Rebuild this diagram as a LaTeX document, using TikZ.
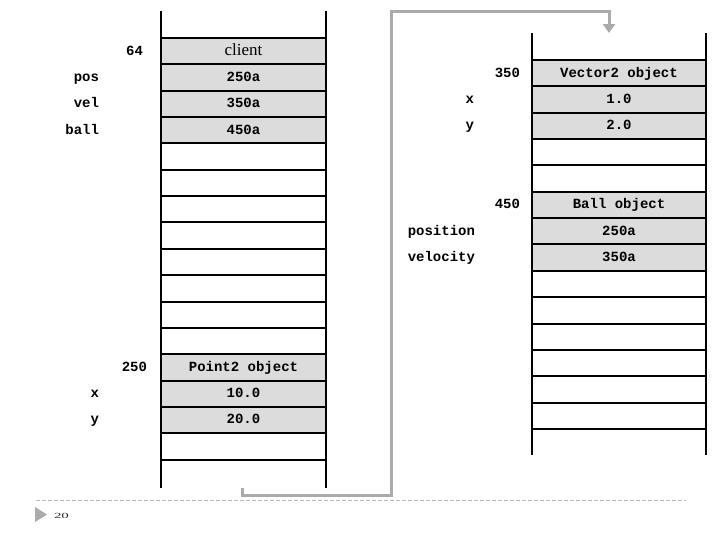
\documentclass[tikz,border=0pt]{standalone}
\usepackage{fontspec}
\newfontfamily\memfont{Liberation Mono}
\newfontfamily\labelfont{Liberation Serif}
\usetikzlibrary{positioning,arrows.meta}
\definecolor{cellgray}{HTML}{DCDCDC}
\definecolor{linkgray}{HTML}{ABABAB}
\definecolor{rulegray}{HTML}{BBBBBB}

\begin{document}
\begin{tikzpicture}
[x=1pt,y=-1pt,
 every node/.style={inner sep=0pt,outer sep=0pt,text height=1.8ex,text depth=0ex,
                    font=\memfont\bfseries\fontsize{14}{16}\selectfont},
 cell/.style={rectangle,draw=black,line width=2pt,minimum width=165pt,minimum height=26.35pt},
 wide/.style={cell,minimum width=174pt},
 used/.style={fill=cellgray},
 rail/.style={draw=black,line width=2pt},
 link/.style={draw=linkgray,line width=3pt,-{Triangle[width=12pt,length=9pt]}}]
\useasboundingbox (0,0) rectangle (720,540);

% left column
\node[cell,used] (L0)  at (243.5,51.2)                 {\labelfont\mdseries\fontsize{17}{19}\selectfont client};
\node[cell,used] (L1)  [on grid,below=26.35pt of L0]   {250a};
\node[cell,used] (L2)  [on grid,below=26.35pt of L1]   {350a};
\node[cell,used] (L3)  [on grid,below=26.35pt of L2]   {450a};
\node[cell]      (L4)  [on grid,below=26.35pt of L3]   {};
\node[cell]      (L5)  [on grid,below=26.35pt of L4]   {};
\node[cell]      (L6)  [on grid,below=26.35pt of L5]   {};
\node[cell]      (L7)  [on grid,below=26.35pt of L6]   {};
\node[cell]      (L8)  [on grid,below=26.35pt of L7]   {};
\node[cell]      (L9)  [on grid,below=26.35pt of L8]   {};
\node[cell]      (L10) [on grid,below=26.35pt of L9]   {};
\node[cell]      (L11) [on grid,below=26.35pt of L10]  {};
\node[cell,used] (L12) [on grid,below=26.35pt of L11]  {Point2 object};
\node[cell,used] (L13) [on grid,below=26.35pt of L12]  {10.0};
\node[cell,used] (L14) [on grid,below=26.35pt of L13]  {20.0};
\node[cell]      (L15) [on grid,below=26.35pt of L14]  {};
\path[rail] ([yshift=27pt]L0.north west) -- ([yshift=-28pt]L15.south west);
\path[rail] ([yshift=27pt]L0.north east) -- ([yshift=-28pt]L15.south east);

\node (lb64)   [left=18pt of L0]  {64};
\node (lbpos)  [left=62pt of L1]  {pos};
\node (lbvel)  [left=62pt of L2]  {vel};
\node (lbball) [left=62pt of L3]  {ball};
\node (lb250)  [left=14pt of L12] {250};
\node (lbpx)   [left=62pt of L13] {x};
\node (lbpy)   [left=62pt of L14] {y};

% right column
\node[wide,used] (R0)  at (619,73.2)                   {Vector2 object};
\node[wide,used] (R1)  [on grid,below=26.35pt of R0]   {1.0};
\node[wide,used] (R2)  [on grid,below=26.35pt of R1]   {2.0};
\node[wide]      (R3)  [on grid,below=26.35pt of R2]   {};
\node[wide]      (R4)  [on grid,below=26.35pt of R3]   {};
\node[wide,used] (R5)  [on grid,below=26.35pt of R4]   {Ball object};
\node[wide,used] (R6)  [on grid,below=26.35pt of R5]   {250a};
\node[wide,used] (R7)  [on grid,below=26.35pt of R6]   {350a};
\node[wide]      (R8)  [on grid,below=26.35pt of R7]   {};
\node[wide]      (R9)  [on grid,below=26.35pt of R8]   {};
\node[wide]      (R10) [on grid,below=26.35pt of R9]   {};
\node[wide]      (R11) [on grid,below=26.35pt of R10]  {};
\node[wide]      (R12) [on grid,below=26.35pt of R11]  {};
\node[wide]      (R13) [on grid,below=26.35pt of R12]  {};
\path[rail] ([yshift=27pt]R0.north west) -- ([yshift=-26pt]R13.south west);
\path[rail] ([yshift=27pt]R0.north east) -- ([yshift=-26pt]R13.south east);

\node (lb350)  [left=12pt of R0] {350};
\node (lbvx)   [left=58pt of R1] {x};
\node (lbvy)   [left=58pt of R2] {y};
\node (lb450)  [left=12pt of R5] {450};
\node (lbposn) [left=57pt of R6] {position};
\node (lbvelo) [left=57pt of R7] {velocity};

% pointer from the left column over to the right one
\coordinate (src) at ([xshift=-1.5pt,yshift=-28pt]L15.south);
\coordinate (dst) at ([xshift=-10pt,yshift=27pt]R0.north);
\path[link] (src) -- ++(0,8) -| (391,12) -| (dst);

% slide footer
\draw[rulegray,line width=1pt,dash pattern=on 4pt off 2pt] (36,500) -- (686,500);
\fill[linkgray] (35,507) -- (47,514.5) -- (35,522) -- cycle;
\node[anchor=west,font=\labelfont\fontsize{13}{15}\selectfont,text=black!85] (pgno) at (54,514.5) {\scalebox{1.15}[0.6]{20}};
\end{tikzpicture}
\end{document}
